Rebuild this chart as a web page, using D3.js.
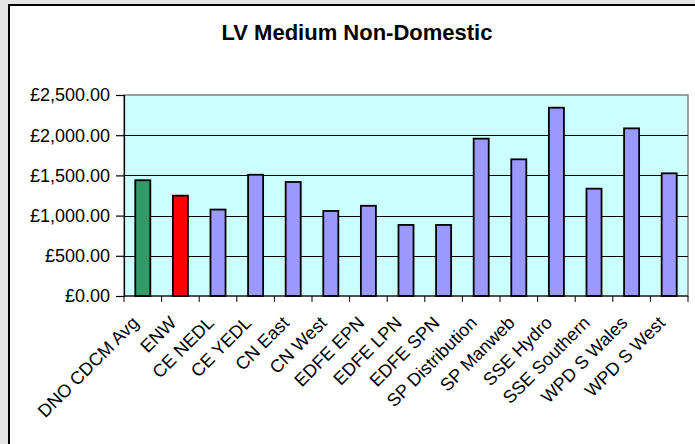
<!DOCTYPE html>
<html>
<head>
<meta charset="utf-8">
<script src="https://cdn.jsdelivr.net/npm/d3@7"></script>
<style>
  body { margin: 0; background: #e4e4e4; overflow: hidden; }
  svg { display: block; }
  text { font-family: "Liberation Sans", Arial, sans-serif; fill: #000; }
</style>
</head>
<body>
<svg id="chart" width="695" height="444"></svg>
<script>
  const title = 'LV Medium Non-Domestic';
  const categories = ['DNO CDCM Avg', 'ENW', 'CE NEDL', 'CE YEDL', 'CN East', 'CN West',
    'EDFE EPN', 'EDFE LPN', 'EDFE SPN', 'SP Distribution', 'SP Manweb', 'SSE Hydro',
    'SSE Southern', 'WPD S Wales', 'WPD S West'];
  const values = [1440, 1248, 1075, 1508, 1418, 1058, 1122, 884, 884, 1957, 1700, 2342,
    1335, 2085, 1526];
  const yTicks = [0, 500, 1000, 1500, 2000, 2500];

  const margin = {top: 95, left: 124, right: 7, bottom: 148};
  const width = 695, height = 444;
  const avgName = 'DNO CDCM Avg', ownName = 'ENW';

  const svg = d3.select('#chart');

  // outer chart frame
  svg.append('rect')
      .attr('x', 9).attr('y', 5)
      .attr('width', 720).attr('height', 470)
      .attr('fill', '#fff')
      .attr('stroke', '#000')
      .attr('stroke-width', 2);

  svg.append('text')
      .attr('x', 357).attr('y', 40)
      .attr('text-anchor', 'middle')
      .style('font-size', '22px')
      .style('font-weight', 'bold')
      .text(title);

  const x = d3.scaleBand()
      .domain(categories)
      .range([margin.left, width - margin.right]);
  const y = d3.scaleLinear()
      .domain([0, 2500])
      .range([height - margin.bottom, margin.top]);

  const plot = svg.append('g');
  plot.append('rect')
      .attr('x', margin.left).attr('y', margin.top)
      .attr('width', width - margin.right - margin.left)
      .attr('height', y(0) - margin.top)
      .attr('fill', '#ccffff')
      .attr('stroke', '#808080')
      .attr('stroke-width', 1.5);

  plot.selectAll('.grid')
      .data(yTicks.filter(d => d > 0 && d < 2500))
      .enter().append('line')
      .attr('class', 'grid')
      .attr('x1', margin.left).attr('x2', width - margin.right)
      .attr('y1', d => Math.round(y(d)) + 0.5).attr('y2', d => Math.round(y(d)) + 0.5)
      .attr('stroke', '#000');

  const barW = x.bandwidth() / 2.5;
  plot.selectAll('.bar')
      .data(categories)
      .enter().append('rect')
      .attr('class', 'bar')
      .attr('x', d => x(d) + (x.bandwidth() - barW) / 2)
      .attr('width', barW)
      .attr('y', (d, i) => y(values[i]))
      .attr('height', (d, i) => y(0) - y(values[i]))
      .attr('fill', d => d === avgName ? '#339966' : d === ownName ? '#ff0000' : '#9999ff')
      .attr('stroke', '#000')
      .attr('stroke-width', 1.8);

  // y axis
  const yAxis = d3.axisLeft(y)
      .tickValues(yTicks)
      .tickSize(8)
      .tickPadding(6)
      .tickFormat(d => '£' + d3.format(',.2f')(d));
  const gy = svg.append('g')
      .attr('transform', 'translate(' + margin.left + ',0)')
      .call(yAxis);
  gy.selectAll('text')
      .style('font-size', '18px')
      .attr('dy', '0.33em');
  gy.selectAll('line, path').attr('stroke', '#000').attr('stroke-width', 1.2);

  // x axis: ticks on category boundaries
  const gx = svg.append('g')
      .attr('transform', 'translate(0,' + y(0) + ')');
  gx.append('line')
      .attr('x1', margin.left).attr('x2', width - margin.right)
      .attr('stroke', '#000').attr('stroke-width', 1.2);
  gx.selectAll('.tick')
      .data(categories.concat(['end']))
      .enter().append('line')
      .attr('class', 'tick')
      .attr('x1', (d, i) => margin.left + i * x.step())
      .attr('x2', (d, i) => margin.left + i * x.step())
      .attr('y1', 0).attr('y2', 6)
      .attr('stroke', '#000');

  gx.selectAll('.label')
      .data(categories)
      .enter().append('text')
      .attr('class', 'label')
      .attr('transform', d => 'translate(' + (x(d) + x.bandwidth() / 2 - 3) + ',28) rotate(-45)')
      .attr('text-anchor', 'end')
      .style('font-size', '18px')
      .text(d => d);
</script>
</body>
</html>
